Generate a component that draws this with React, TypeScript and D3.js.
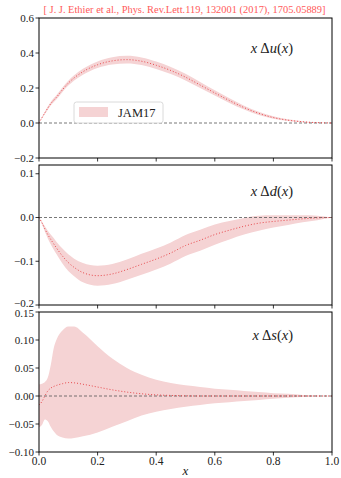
import React from "react";
import * as d3 from "d3";

const W = 341;
const H = 478;

const xs = [0, 0.01, 0.02, 0.03, 0.04, 0.05, 0.06, 0.08, 0.1, 0.12, 0.15, 0.2, 0.25, 0.3, 0.35, 0.4, 0.45, 0.5, 0.55, 0.6, 0.65, 0.7, 0.75, 0.8, 0.85, 0.9, 0.95, 1.0];

const uCentral = [0, 0.03, 0.058, 0.085, 0.11, 0.13, 0.148, 0.19, 0.228, 0.258, 0.293, 0.333, 0.355, 0.362, 0.353, 0.33, 0.3, 0.262, 0.217, 0.172, 0.128, 0.088, 0.055, 0.031, 0.016, 0.007, 0.002, 0];
const uLow = [0, 0.026, 0.051, 0.076, 0.1, 0.119, 0.136, 0.177, 0.214, 0.243, 0.276, 0.314, 0.334, 0.34, 0.331, 0.309, 0.28, 0.243, 0.2, 0.157, 0.115, 0.077, 0.046, 0.024, 0.011, 0.004, 0.0005, 0];
const uHigh = [0, 0.034, 0.065, 0.094, 0.12, 0.141, 0.16, 0.203, 0.242, 0.273, 0.31, 0.352, 0.376, 0.384, 0.375, 0.351, 0.32, 0.281, 0.234, 0.187, 0.141, 0.099, 0.064, 0.038, 0.021, 0.01, 0.0035, 0];

const dCentral = [0, -0.012, -0.026, -0.039, -0.05, -0.06, -0.07, -0.088, -0.103, -0.114, -0.126, -0.133, -0.129, -0.119, -0.107, -0.095, -0.081, -0.064, -0.052, -0.039, -0.029, -0.02, -0.013, -0.009, -0.006, -0.003, -0.001, 0];
const dLow = [0, -0.015, -0.032, -0.048, -0.061, -0.073, -0.084, -0.105, -0.122, -0.134, -0.148, -0.156, -0.152, -0.142, -0.131, -0.119, -0.105, -0.088, -0.076, -0.062, -0.05, -0.039, -0.03, -0.023, -0.017, -0.011, -0.006, 0];
const dHigh = [0, -0.009, -0.02, -0.03, -0.039, -0.047, -0.056, -0.071, -0.084, -0.094, -0.104, -0.11, -0.106, -0.096, -0.083, -0.071, -0.057, -0.04, -0.028, -0.016, -0.008, -0.001, 0.004, 0.005, 0.005, 0.005, 0.004, 0];

const sCentral = [-0.016, -0.01, 0.0, 0.009, 0.014, 0.017, 0.019, 0.022, 0.024, 0.0235, 0.021, 0.016, 0.011, 0.007, 0.004, 0.002, 0.001, 0.0003, 0, 0, 0, 0, 0, 0, 0, 0, 0, 0];
const sHigh = [0.021, 0.022, 0.025, 0.033, 0.055, 0.085, 0.101, 0.117, 0.124, 0.124, 0.113, 0.089, 0.067, 0.05, 0.038, 0.029, 0.023, 0.019, 0.016, 0.013, 0.011, 0.009, 0.007, 0.005, 0.004, 0.002, 0.001, 0];
const sLow = [-0.056, -0.052, -0.042, -0.045, -0.055, -0.063, -0.069, -0.074, -0.076, -0.075, -0.072, -0.065, -0.055, -0.045, -0.035, -0.028, -0.023, -0.019, -0.016, -0.013, -0.011, -0.009, -0.007, -0.005, -0.003, -0.002, -0.001, 0];

const xTicks = [0, 0.2, 0.4, 0.6, 0.8, 1.0];
const xTickLabels = ["0.0", "0.2", "0.4", "0.6", "0.8", "1.0"];

const uTicks = [-0.2, 0, 0.2, 0.4, 0.6];
const uTickLabels = ["\u22120.2", "0.0", "0.2", "0.4", "0.6"];
const dTicks = [-0.2, -0.1, 0, 0.1];
const dTickLabels = ["\u22120.2", "\u22120.1", "0.0", "0.1"];
const sTicks = [-0.1, -0.05, 0, 0.05, 0.1, 0.15];
const sTickLabels = ["\u22120.10", "\u22120.05", "0.00", "0.05", "0.10", "0.15"];

const title = "[ J. J. Ethier et al., Phys. Rev.Lett.119, 132001 (2017), 1705.05889]";
const legendLabel = "JAM17";

const panels = [
  { fn: "u", central: uCentral, low: uLow, high: uHigh, domain: [-0.2, 0.6], ticks: uTicks, labels: uTickLabels, top: 18 },
  { fn: "d", central: dCentral, low: dLow, high: dHigh, domain: [-0.2, 0.12], ticks: dTicks, labels: dTickLabels, top: 165 },
  { fn: "s", central: sCentral, low: sLow, high: sHigh, domain: [-0.1, 0.15], ticks: sTicks, labels: sTickLabels, top: 312 },
];

const PH = 140;
const X0 = 39;
const X1 = 332;
const FONT = "'Liberation Serif', 'DejaVu Serif', serif";
const BAND = "#f5d3d4";
const LINE = "#e8484c";

export default function App() {
  const x = d3.scaleLinear().domain([0, 1]).range([X0, X1]);
  return (
    <svg width={W} height={H} style={{ display: "block", position: "absolute", left: 0, top: 0 }} fontFamily={FONT}>
      <rect x={0} y={0} width={W} height={H} fill="white" />
      <text x={(X0 + X1) / 2 - 1} y={13} textAnchor="middle" fontSize={9.5} fill="#ff5a5a" textLength={282} lengthAdjust="spacingAndGlyphs">{title}</text>
      {panels.map((p, pi) => {
        const y = d3.scaleLinear().domain(p.domain).range([p.top + PH, p.top]);
        const area = d3.area<number>().x((_, i) => x(xs[i])).y0((_, i) => y(p.low[i])).y1((_, i) => y(p.high[i])).curve(d3.curveMonotoneX);
        const line = d3.line<number>().x((_, i) => x(xs[i])).y((d) => y(d)).curve(d3.curveMonotoneX);
        const last = pi === panels.length - 1;
        const labelY = [53, 196, 340][pi];
        const n = p.ticks.length;
        return (
          <g key={p.fn}>
            <defs>
              <clipPath id={`clip${pi}`}>
                <rect x={X0} y={p.top} width={X1 - X0} height={PH} />
              </clipPath>
            </defs>
            <g clipPath={`url(#clip${pi})`}>
              <path d={area(p.central) || ""} fill={BAND} />
              <line x1={X0} x2={X1} y1={y(0)} y2={y(0)} stroke="#555" strokeWidth={0.8} strokeDasharray="3,2" />
              <path d={line(p.central) || ""} fill="none" stroke={LINE} strokeWidth={1} strokeDasharray="1,2" />
            </g>
            <rect x={X0} y={p.top} width={X1 - X0} height={PH} fill="none" stroke="black" strokeWidth={1} />
            {xTicks.map((t, i) => (
              <g key={i}>
                <line x1={x(t)} x2={x(t)} y1={p.top + PH} y2={p.top + PH + 3.5} stroke="black" strokeWidth={0.8} />
                {last && (
                  <text x={x(t)} y={p.top + PH + 13} textAnchor="middle" fontSize={11.5} fill="#222">{xTickLabels[i]}</text>
                )}
              </g>
            ))}
            {p.ticks.map((t, i) => {
              let nudge = 0;
              if (pi === 1 && i === 0) nudge = -1.5;
              if (pi === 2 && i === n - 1) nudge = 1.5;
              return (
                <g key={i}>
                  <line x1={X0 - 3.5} x2={X0} y1={y(t)} y2={y(t)} stroke="black" strokeWidth={0.8} />
                  <text x={X0 - 5} y={y(t) + 3.5 + nudge} textAnchor="end" fontSize={11} fill="#222">{p.labels[i]}</text>
                </g>
              );
            })}
            <text x={293} y={labelY} textAnchor="end" fontSize={14.5} fill="#222">
              <tspan fontStyle="italic">x</tspan>
              <tspan dx={3}>{"\u0394"}</tspan>
              <tspan fontStyle="italic">{p.fn}</tspan>
              <tspan>(</tspan>
              <tspan fontStyle="italic">x</tspan>
              <tspan>)</tspan>
            </text>
          </g>
        );
      })}
      <g>
        <rect x={74} y={102} width={89} height={21} rx={2.5} fill="white" fillOpacity={0.85} stroke="#d0d0d0" strokeWidth={0.8} />
        <rect x={79} y={107} width={29} height={10} fill={BAND} />
        <text x={118} y={117} fontSize={12.5} fill="#222">{legendLabel}</text>
      </g>
      <text x={(X0 + X1) / 2} y={475} textAnchor="middle" fontSize={13} fontStyle="italic" fill="#222">x</text>
    </svg>
  );
}
